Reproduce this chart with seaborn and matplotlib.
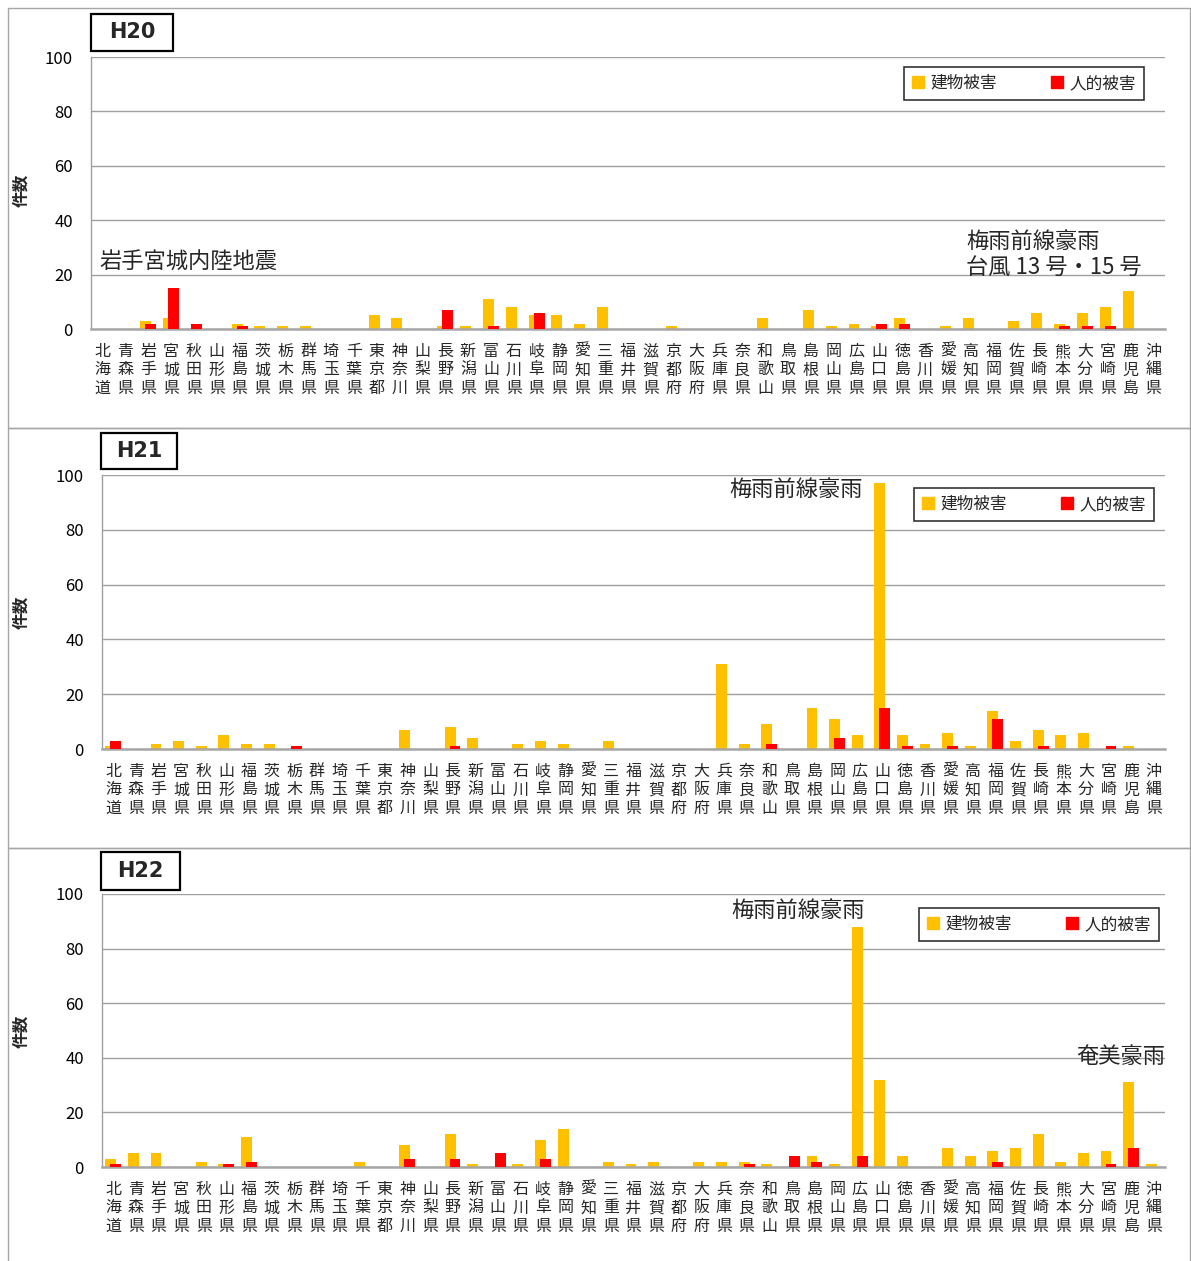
import numpy as np
import pandas as pd
import matplotlib
matplotlib.use("Agg")
import matplotlib.pyplot as plt
from matplotlib.patches import Rectangle
from matplotlib.lines import Line2D
import seaborn as sns

prefs = ["北海道", "青森県", "岩手県", "宮城県", "秋田県", "山形県", "福島県", "茨城県",
         "栃木県", "群馬県", "埼玉県", "千葉県", "東京都", "神奈川", "山梨県", "長野県",
         "新潟県", "富山県", "石川県", "岐阜県", "静岡県", "愛知県", "三重県", "福井県",
         "滋賀県", "京都府", "大阪府", "兵庫県", "奈良県", "和歌山", "鳥取県", "島根県",
         "岡山県", "広島県", "山口県", "徳島県", "香川県", "愛媛県", "高知県", "福岡県",
         "佐賀県", "長崎県", "熊本県", "大分県", "宮崎県", "鹿児島", "沖縄県"]

h20_building = [0, 0, 3, 4, 0, 0, 2, 1, 1, 1, 0, 0, 5, 4, 0, 1,
                1, 11, 8, 5, 5, 2, 8, 0, 0, 1, 0, 0, 0, 4, 0, 7,
                1, 2, 1, 4, 0, 1, 4, 0, 3, 6, 2, 6, 8, 14, 0]
h20_human = [0, 0, 2, 15, 2, 0, 1, 0, 0, 0, 0, 0, 0, 0, 0, 7,
             0, 1, 0, 6, 0, 0, 0, 0, 0, 0, 0, 0, 0, 0, 0, 0,
             0, 0, 2, 2, 0, 0, 0, 0, 0, 0, 1, 1, 1, 0, 0]

h21_building = [1, 0, 2, 3, 1, 5, 2, 2, 0, 0, 0, 0, 0, 7, 0, 8,
                4, 0, 2, 3, 2, 0, 3, 0, 0, 0, 0, 31, 2, 9, 0, 15,
                11, 5, 97, 5, 2, 6, 1, 14, 3, 7, 5, 6, 0, 1, 0]
h21_human = [3, 0, 0, 0, 0, 0, 0, 0, 1, 0, 0, 0, 0, 0, 0, 1,
             0, 0, 0, 0, 0, 0, 0, 0, 0, 0, 0, 0, 0, 2, 0, 0,
             4, 0, 15, 1, 0, 1, 0, 11, 0, 1, 0, 0, 1, 0, 0]

h22_building = [3, 5, 5, 0, 2, 1, 11, 0, 0, 0, 0, 2, 0, 8, 0, 12,
                1, 0, 1, 10, 14, 0, 2, 1, 2, 0, 2, 2, 2, 1, 0, 4,
                1, 88, 32, 4, 0, 7, 4, 6, 7, 12, 2, 5, 6, 31, 1]
h22_human = [1, 0, 0, 0, 0, 1, 2, 0, 0, 0, 0, 0, 0, 3, 0, 3,
             0, 5, 0, 3, 0, 0, 0, 0, 0, 0, 0, 0, 1, 0, 4, 2,
             0, 4, 0, 0, 0, 0, 0, 2, 0, 0, 0, 0, 1, 7, 0]

years = ["H20", "H21", "H22"]
series_names = ["建物被害", "人的被害"]
yticks = [0, 20, 40, 60, 80, 100]

YELLOW = "#FFC000"
RED = "#FF0000"
GRID = "#A0A0A0"

sns.set_theme(style="white")
plt.rcParams["font.family"] = ["Noto Sans CJK JP", "DejaVu Sans"]

W, H = 1191, 1261
fig = plt.figure(figsize=(W / 100, H / 100), dpi=100)

def fx(px):
    return px / W

def fy(py):
    return 1 - py / H

panels = [
    dict(data=(h20_building, h20_human), ax=(91, 57, 1165, 329), box=(8, 8, 1190, 428),
         title=(91, 14, 173, 51), legend=(903, 65, 1145, 102),
         notes=[("岩手宮城内陸地震", 99, 262), ("梅雨前線豪雨", 966, 241), ("台風 13 号・15 号", 966, 267)],
         ylab=(21, 190)),
    dict(data=(h21_building, h21_human), ax=(102, 475, 1165, 749), box=(8, 428, 1190, 848),
         title=(101, 433, 177, 469), legend=(920, 487, 1148, 522),
         notes=[("梅雨前線豪雨", 729, 489)],
         ylab=(21, 612)),
    dict(data=(h22_building, h22_human), ax=(102, 894, 1165, 1167), box=(8, 848, 1190, 1262),
         title=(101, 852, 180, 890), legend=(918, 906, 1160, 943),
         notes=[("梅雨前線豪雨", 731, 910), ("奄美豪雨", 1076, 1056)],
         ylab=(21, 1031)),
]

idx = np.arange(len(prefs))
vlabels = ["\n".join(p) for p in prefs]

for yr, p in zip(years, panels):
    bx0, by0, bx1, by1 = p["box"]
    fig.add_artist(Rectangle((fx(bx0), fy(by1)), fx(bx1) - fx(bx0), fy(by0) - fy(by1),
                             transform=fig.transFigure, fill=False, edgecolor="#A6A6A6", lw=1))

    x0, y0, x1, y1 = p["ax"]
    ax = fig.add_axes([fx(x0), fy(y1), fx(x1) - fx(x0), fy(y0) - fy(y1)])
    bld, hum = p["data"]
    df_b = pd.DataFrame({"x": idx - 0.11, "v": bld})
    df_h = pd.DataFrame({"x": idx + 0.11, "v": hum})
    sns.barplot(data=df_b, x="x", y="v", native_scale=True, width=0.48, color=YELLOW,
                saturation=1, linewidth=0, errorbar=None, ax=ax, zorder=2)
    sns.barplot(data=df_h, x="x", y="v", native_scale=True, width=0.48, color=RED,
                saturation=1, linewidth=0, errorbar=None, ax=ax, zorder=3)

    ax.set_xlim(-0.5, len(prefs) - 0.5)
    ax.set_ylim(0, 100)
    ax.set_yticks(yticks)
    ax.set_yticklabels([str(t) for t in yticks], fontsize=12, color="#000000")
    ax.set_xticks(idx)
    ax.set_xticklabels(vlabels, fontsize=11.5, linespacing=1.12, va="top")
    ax.tick_params(axis="both", length=0)
    ax.tick_params(axis="y", pad=13)
    ax.tick_params(axis="x", pad=10)
    ax.set_xlabel("")
    ax.set_ylabel("")
    ax.grid(axis="y", color=GRID, lw=1)
    ax.grid(axis="x", visible=False)
    ax.set_axisbelow(True)
    for s in ["top", "right"]:
        ax.spines[s].set_visible(False)
    ax.spines["left"].set_color(GRID)
    ax.spines["left"].set_linewidth(1)
    ax.spines["bottom"].set_color("#A6A6A6")
    ax.spines["bottom"].set_linewidth(1.8)
    ax.set_facecolor("white")

    tx0, ty0, tx1, ty1 = p["title"]
    fig.add_artist(Rectangle((fx(tx0), fy(ty1)), fx(tx1) - fx(tx0), fy(ty0) - fy(ty1),
                             transform=fig.transFigure, fill=True, facecolor="white",
                             edgecolor="black", lw=1.6, zorder=5))
    fig.text((fx(tx0) + fx(tx1)) / 2, (fy(ty0) + fy(ty1)) / 2, yr, ha="center", va="center",
             fontsize=15, fontweight="bold", family=["DejaVu Sans"], zorder=6)

    lx, ly = p["ylab"]
    fig.text(fx(lx), fy(ly), "件数", rotation=90, ha="center", va="center",
             fontsize=12, fontweight="bold")

    lx0, ly0, lx1, ly1 = p["legend"]
    handles = [Line2D([], [], marker="s", ls="", markersize=8, color=YELLOW),
               Line2D([], [], marker="s", ls="", markersize=8, color=RED)]
    leg = fig.legend(handles, series_names, loc="center",
                     bbox_to_anchor=((fx(lx0) + fx(lx1)) / 2, (fy(ly0) + fy(ly1)) / 2),
                     bbox_transform=fig.transFigure, ncol=2, fontsize=12, frameon=True,
                     fancybox=False, edgecolor="black", handlelength=0.7, handletextpad=0.4,
                     columnspacing=3.2, borderpad=0.5, borderaxespad=0)
    leg.get_frame().set_linewidth(1.2)

    for txt, nx, ny in p["notes"]:
        fig.text(fx(nx), fy(ny), txt, ha="left", va="center", fontsize=16)

fig.savefig("out.png", dpi=100, facecolor="white")
